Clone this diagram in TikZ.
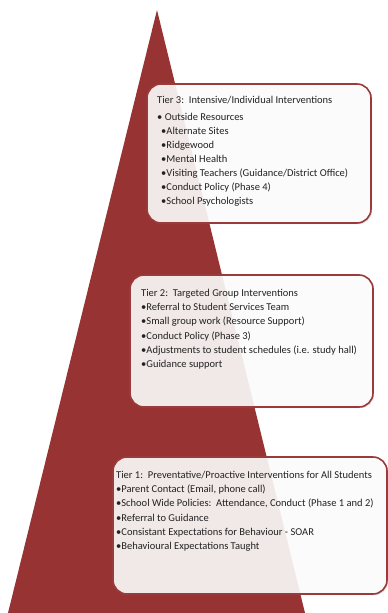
\documentclass[tikz,border=0pt]{standalone}
\usepackage{fontspec}
\setmainfont{Carlito}
\usetikzlibrary{shadows}
\definecolor{tri}{HTML}{983333}
\definecolor{edge}{HTML}{9A3A3A}
\definecolor{ink}{HTML}{222222}
\tikzset{
  tierbox/.style={draw=edge, line width=1.6pt, rounded corners=14pt, fill=white, fill opacity=0.88, draw opacity=1,
     drop shadow={opacity=0.25, shadow xshift=1.2pt, shadow yshift=-1.2pt}, inner sep=0pt},
  line/.style={anchor=base west, inner sep=0pt, text=ink, font=\fontsize{10.5}{12}\selectfont}
}
\begin{document}
\begin{tikzpicture}[x=1pt,y=-1pt]
\useasboundingbox (0,0) rectangle (388,613);
\fill[white] (0,0) rectangle (388,613);
\fill[tri] (157,10) -- (305,613) -- (8,613) -- cycle;
% Tier 3
\node[tierbox, minimum width=224pt, minimum height=139pt] (b3) at (259,153.5) {};
\node[line] (t3-0) at (157,103.5) {Tier 3:\ \ Intensive/Individual Interventions};
\node[line] (t3-1) at (157,120) {• Outside Resources};
\foreach \txt [count=\i from 2] in {{•Alternate Sites},{•Ridgewood},{•Mental Health},{•Visiting Teachers (Guidance/District Office)},{•Conduct Policy (Phase 4)},{•School Psychologists}}
  \node[line] (t3-\i) at (161,{120+14.1*(\i-1)}) {\txt};
% Tier 2
\node[tierbox, minimum width=243pt, minimum height=132pt] (b2) at (251.5,341) {};
\node[line] (t2-0) at (141,296.5) {Tier 2:\ \ Targeted Group Interventions};
\foreach \txt [count=\i] in {{•Referral to Student Services Team},{•Small group work (Resource Support)},{•Conduct Policy (Phase 3)},{•Adjustments to student schedules (i.e. study hall)},{•Guidance support}}
  \node[line] (t2-\i) at (141,{296.5+14.2*\i}) {\txt};
% Tier 1
\node[tierbox, minimum width=274pt, minimum height=137pt] (b1) at (250,525.5) {};
\node[line] (t1-0) at (116,478.5) {Tier 1:\ \ Preventative/Proactive Interventions for All Students};
\foreach \txt [count=\i] in {{•Parent Contact (Email, phone call)},{•School Wide Policies:\ \ Attendance, Conduct (Phase 1 and 2)},{•Referral to Guidance},{•Consistant Expectations\ for Behaviour - SOAR},{•Behavioural Expectations Taught}}
  \node[line] (t1-\i) at (116,{478.5+14.2*\i}) {\txt};
\end{tikzpicture}
\end{document}
